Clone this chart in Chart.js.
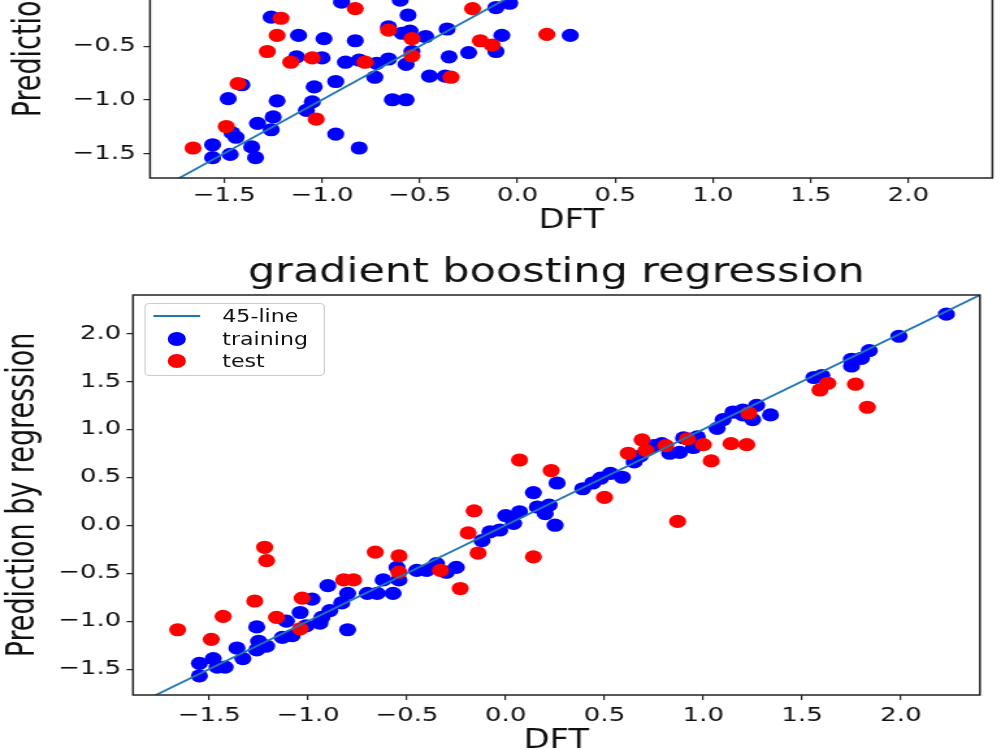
<!DOCTYPE html>
<html>
<head>
<meta charset="utf-8">
<script src="https://cdn.jsdelivr.net/npm/chart.js@4.4.0/dist/chart.umd.min.js"></script>
<style>
  html, body { margin: 0; padding: 0; background: #fff; overflow: hidden; width: 1000px; height: 750px; }
  .panel { position: absolute; left: 0; width: 770px; transform: scaleX(1.3); transform-origin: 0 0; }
  #panelTop { top: -323px; height: 576px; }
  #panelBottom { top: 240px; height: 530px; }
  canvas { display: block; }
  #legend { position: absolute; left: 111px; top: 63px; width: 139px; box-sizing: border-box;
            border: 1px solid #ccc; border-radius: 4px; background: rgba(255,255,255,0.8);
            padding: 1px 0 2px 0; font-family: "DejaVu Sans"; font-size: 17px; color: #111; }
  #legend .item { height: 22.5px; display: flex; align-items: center; }
  #legend .sw { width: 36px; margin-left: 6px; margin-right: 17px; height: 100%; position: relative; }
  #legend .sw.line::after { content: ""; position: absolute; left: 0; right: 0; top: 50%; height: 2px;
                            margin-top: -1px; background: var(--c); }
  #legend .sw.dot::after { content: ""; position: absolute; left: 11px; top: 50%; width: 14px; height: 14px;
                           margin-top: -7px; border-radius: 50%; background: var(--c); }
</style>
</head>
<body>
<div class="panel" id="panelTop"><canvas id="topChart" width="770" height="576"></canvas></div>
<div class="panel" id="panelBottom"><canvas id="gbrChart" width="770" height="530"></canvas><div id="legend"></div></div>
<script>
// tick values shared by both panels
const xTickValues = [-1.5, -1.0, -0.5, 0.0, 0.5, 1.0, 1.5, 2.0];
const yTickValues = [-1.5, -1.0, -0.5, 0.0, 0.5, 1.0, 1.5, 2.0];
const diagonal = [-2.5, 2.5];

// upper panel (only its lower part is in the picture)
const topXRange = [-1.88, 2.43];
const topYRange = [-1.73, 2.43];
const topTrainX = [-1.26,-1.12,-0.99,-0.83,-1.13,-1.00,-0.88,-0.81,-0.72,-0.73,-0.93,-1.41,-1.04,-1.48,-1.23,-1.05,-1.08,-1.25,-1.33,-1.26,-1.46,-1.44,-0.93,-1.36,-1.56,-1.47,-1.56,-1.34,-0.81,-0.90,-0.60,-0.11,-0.04,-0.56,-0.66,-0.59,-0.55,-0.47,-0.36,-0.54,-0.57,-0.66,-0.35,-0.25,-0.11,-0.08,0.27,-0.45,-0.37,-0.64,-0.57];
const topTrainY = [-0.23,-0.40,-0.43,-0.45,-0.60,-0.61,-0.65,-0.63,-0.66,-0.79,-0.83,-0.86,-0.88,-0.99,-1.01,-1.02,-1.10,-1.16,-1.22,-1.28,-1.31,-1.35,-1.32,-1.44,-1.42,-1.51,-1.54,-1.54,-1.45,-0.09,-0.07,-0.14,-0.10,-0.21,-0.32,-0.38,-0.36,-0.41,-0.34,-0.55,-0.67,-0.62,-0.60,-0.56,-0.55,-0.40,-0.40,-0.78,-0.78,-1.00,-1.00];
const topTestX = [-1.21,-1.23,-1.28,-1.16,-1.05,-0.78,-1.43,-1.03,-1.49,-1.66,-0.83,-0.23,-0.66,-0.54,-0.54,-0.19,-0.13,0.15,-0.34];
const topTestY = [-0.24,-0.40,-0.55,-0.65,-0.61,-0.65,-0.85,-1.18,-1.25,-1.45,-0.15,-0.15,-0.35,-0.43,-0.59,-0.45,-0.49,-0.39,-0.79];

// gradient boosting regression panel
const gbrXRange = [-1.886, 2.40];
const gbrYRange = [-1.77, 2.40];
const gbrTrainX = [-1.55,-1.55,-1.48,-1.46,-1.42,-1.36,-1.33,-1.26,-1.26,-1.25,-1.21,-1.13,-1.11,-1.08,-1.04,-1.01,-0.98,-0.94,-0.93,-0.89,-0.90,-0.83,-0.80,-0.80,-0.70,-0.65,-0.62,-0.57,-0.55,-0.54,-0.45,-0.40,-0.35,-0.30,-0.25,-0.12,-0.08,-0.03,0.00,0.04,0.07,0.14,0.16,0.20,0.22,0.25,0.26,0.39,0.44,0.48,0.53,0.59,0.65,0.68,0.75,0.79,0.83,0.88,0.90,0.95,0.97,1.07,1.10,1.15,1.20,1.20,1.25,1.27,1.34,1.56,1.60,1.75,1.75,1.80,1.84,1.99,2.23];
const gbrTrainY = [-1.57,-1.44,-1.39,-1.48,-1.48,-1.28,-1.39,-1.06,-1.30,-1.21,-1.26,-1.17,-1.00,-1.15,-0.91,-1.05,-0.77,-1.02,-0.96,-0.89,-0.63,-0.81,-1.09,-0.71,-0.71,-0.71,-0.57,-0.71,-0.44,-0.57,-0.47,-0.47,-0.40,-0.49,-0.44,-0.16,-0.07,-0.05,0.10,0.02,0.14,0.34,0.19,0.12,0.21,0.00,0.44,0.38,0.44,0.49,0.54,0.50,0.66,0.72,0.83,0.85,0.75,0.76,0.91,0.81,0.92,1.01,1.10,1.18,1.20,1.15,1.10,1.25,1.15,1.54,1.56,1.73,1.66,1.74,1.82,1.97,2.20];
const gbrTestX = [-1.66,-1.49,-1.43,-1.27,-1.22,-1.21,-1.16,-1.04,-1.03,-0.82,-0.77,-0.66,-0.54,-0.54,-0.33,-0.23,-0.19,-0.16,-0.14,0.14,0.07,0.23,0.50,0.87,0.62,0.69,0.71,0.81,0.92,1.00,1.04,1.14,1.22,1.23,1.59,1.63,1.77,1.83];
const gbrTestY = [-1.09,-1.19,-0.95,-0.79,-0.23,-0.37,-0.96,-1.08,-0.76,-0.57,-0.57,-0.28,-0.32,-0.49,-0.47,-0.66,-0.08,0.15,-0.29,-0.33,0.68,0.57,0.29,0.04,0.75,0.89,0.78,0.83,0.90,0.84,0.67,0.85,0.84,1.17,1.41,1.48,1.47,1.23];

Chart.defaults.font.family = '"DejaVu Sans", sans-serif';
Chart.defaults.color = '#111';

const zip = (xs, ys) => xs.map((x, i) => ({x: x, y: ys[i]}));
const fmt = v => (v < 0 ? '\u2212' : '') + Math.abs(v).toFixed(1);

// axes frame on all four sides, like matplotlib spines
const frame = {
    id: 'frame',
    afterDatasetsDraw(chart) {
        const {ctx, chartArea: a} = chart;
        ctx.save();
        ctx.strokeStyle = '#222';
        ctx.lineWidth = 1.5;
        ctx.strokeRect(a.left, a.top, a.right - a.left, a.bottom - a.top);
        ctx.restore();
    }
};

// legend built as html, placed inside the plot
const htmlLegend = {
    id: 'htmlLegend',
    afterUpdate(chart, args, opts) {
        if (!opts.containerID) return;
        const box = document.getElementById(opts.containerID);
        box.innerHTML = '';
        const items = chart.options.plugins.legend.labels.generateLabels(chart)
            .sort((a, b) => a.datasetIndex - b.datasetIndex);
        items.forEach(item => {
            const ds = chart.data.datasets[item.datasetIndex];
            const row = document.createElement('div');
            row.className = 'item';
            const sw = document.createElement('span');
            sw.className = ds.type === 'line' ? 'sw line' : 'sw dot';
            sw.style.setProperty('--c', ds.type === 'line' ? ds.borderColor : ds.backgroundColor);
            const txt = document.createElement('span');
            txt.textContent = item.text;
            row.appendChild(sw);
            row.appendChild(txt);
            box.appendChild(row);
        });
    }
};

function buildChart(id, s) {
    return new Chart(document.getElementById(id), {
        type: 'scatter',
        data: {
            datasets: [
                { type: 'line', label: '45-line', data: zip(diagonal, diagonal), showLine: true,
                  borderColor: '#1f77b4', borderWidth: 1.8, pointRadius: 0, order: 0, clip: 0 },
                { label: 'training', data: zip(s.trainX, s.trainY), backgroundColor: '#0000ff',
                  borderWidth: 0, pointRadius: 6.6, order: 2, clip: 0 },
                { label: 'test', data: zip(s.testX, s.testY), backgroundColor: '#ff0000',
                  borderWidth: 0, pointRadius: 6.6, order: 1, clip: 0 }
            ]
        },
        options: {
            responsive: false,
            animation: false,
            events: [],
            layout: { padding: { left: 0, right: s.padRight, top: 0, bottom: 0 } },
            plugins: {
                legend: { display: false },
                tooltip: { enabled: false },
                htmlLegend: { containerID: s.legendId }
            },
            scales: {
                x: {
                    type: 'linear', position: 'bottom', min: s.xRange[0], max: s.xRange[1],
                    afterBuildTicks: ax => { ax.ticks = xTickValues.map(v => ({value: v})); },
                    afterFit: ax => { ax.height = 75; },
                    ticks: { callback: fmt, font: { size: 20 }, color: '#111', padding: s.xTickPad, maxRotation: 0, autoSkip: false },
                    grid: { drawOnChartArea: false, drawTicks: true, tickLength: 5, color: '#222', lineWidth: 1.2 },
                    border: { display: false },
                    title: { display: true, text: 'DFT', font: { size: 26 }, color: '#111', padding: { top: 0, bottom: s.xTitlePad } }
                },
                y: {
                    type: 'linear', position: 'left', min: s.yRange[0], max: s.yRange[1],
                    afterBuildTicks: ax => { ax.ticks = yTickValues.map(v => ({value: v})); },
                    afterFit: ax => { ax.width = s.yWidth; },
                    ticks: { callback: fmt, font: { size: 20 }, color: '#111', padding: s.yTickPad, autoSkip: false },
                    grid: { drawOnChartArea: false, drawTicks: true, tickLength: 5, color: '#222', lineWidth: 1.2 },
                    border: { display: false },
                    title: { display: true, text: 'Prediction by regression',
                             font: { family: '"DejaVu Sans Condensed", "Liberation Sans Narrow", "DejaVu Sans"', size: 30 },
                             color: '#111', padding: { top: s.yTitlePad, bottom: 0 } }
                },
                xTop: {
                    type: 'linear', position: 'top', min: 0, max: 1,
                    afterFit: ax => { ax.height = 55; },
                    ticks: { display: false },
                    grid: { display: false },
                    border: { display: false },
                    title: { display: !!s.title, text: s.title || '', font: { size: 33 }, color: '#111', padding: { top: 14, bottom: 0 } }
                }
            }
        },
        plugins: [frame, htmlLegend]
    });
}

buildChart('topChart', {
    trainX: topTrainX, trainY: topTrainY, testX: topTestX, testY: topTestY,
    xRange: topXRange, yRange: topYRange,
    yWidth: 115.4, padRight: 3, xTickPad: 1, yTickPad: 6, xTitlePad: 16, yTitlePad: 5,
    title: '', legendId: null
});

buildChart('gbrChart', {
    trainX: gbrTrainX, trainY: gbrTrainY, testX: gbrTestX, testY: gbrTestY,
    xRange: gbrXRange, yRange: gbrYRange,
    yWidth: 102.3, padRight: 16.2, xTickPad: 4, yTickPad: 4, xTitlePad: 13, yTitlePad: 0,
    title: 'gradient boosting regression', legendId: 'legend'
});
</script>
</body>
</html>
